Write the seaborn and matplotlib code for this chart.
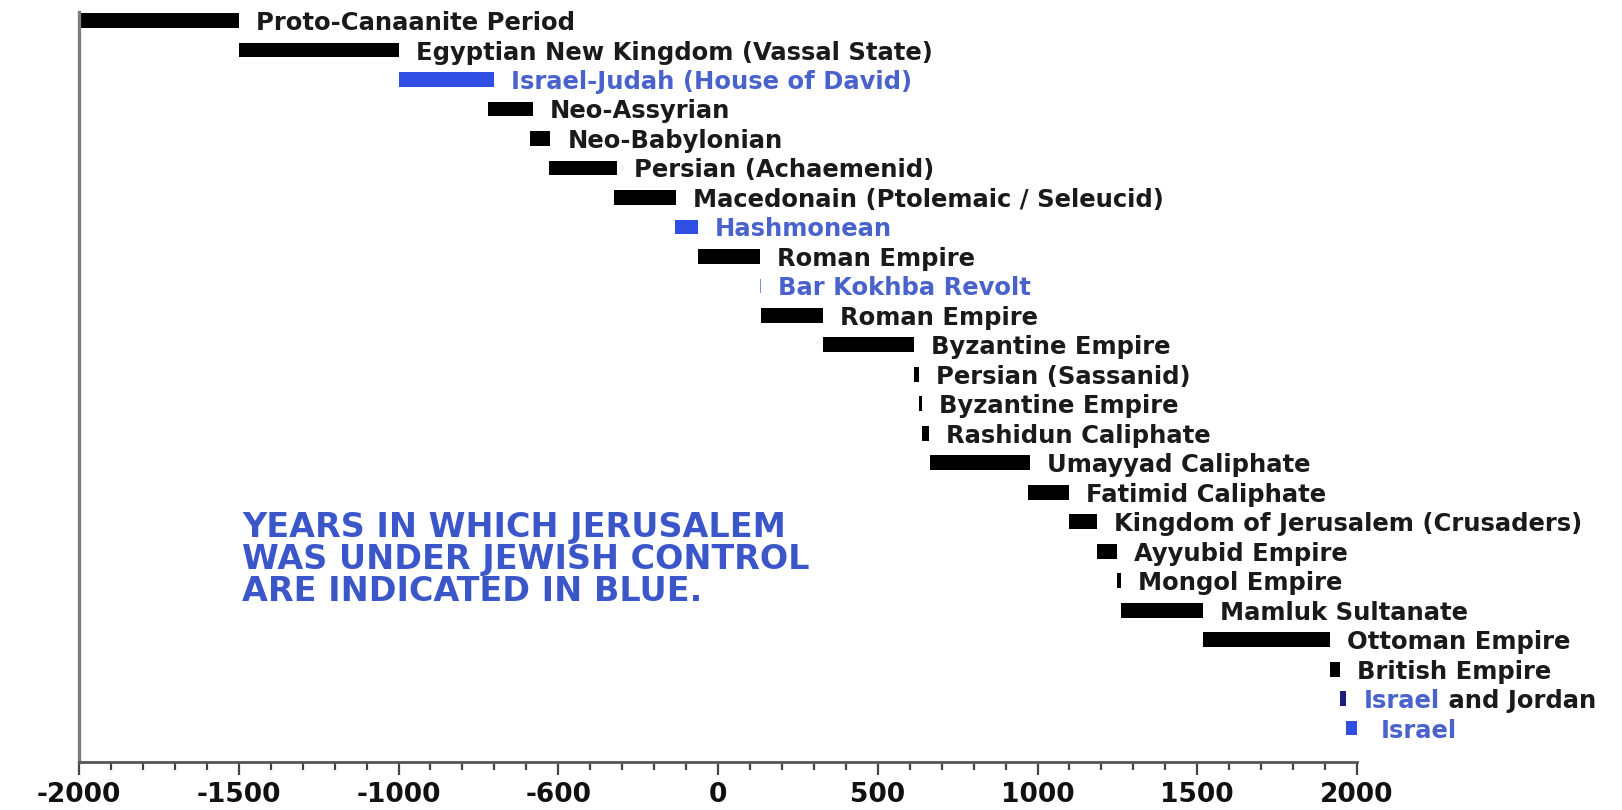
import matplotlib
matplotlib.use('Agg')
import pandas as pd
import matplotlib.pyplot as plt
import seaborn as sns
from matplotlib.ticker import FixedLocator, MultipleLocator

# Data: rule over Jerusalem, top to bottom
periods = ['Proto-Canaanite Period', 'Egyptian New Kingdom (Vassal State)',
           'Israel-Judah (House of David)', 'Neo-Assyrian', 'Neo-Babylonian',
           'Persian (Achaemenid)', 'Macedonain (Ptolemaic / Seleucid)', 'Hashmonean',
           'Roman Empire', 'Bar Kokhba Revolt', 'Roman Empire', 'Byzantine Empire',
           'Persian (Sassanid)', 'Byzantine Empire', 'Rashidun Caliphate',
           'Umayyad Caliphate', 'Fatimid Caliphate', 'Kingdom of Jerusalem (Crusaders)',
           'Ayyubid Empire', 'Mongol Empire', 'Mamluk Sultanate', 'Ottoman Empire',
           'British Empire', 'Israel', 'Israel']
label_tail = [''] * 23 + [' and Jordan', '']
start_year = [-2000, -1500, -1000, -720, -587, -530, -325, -135, -63, 132, 136, 330,
              614, 629, 640, 662, 970, 1099, 1187, 1250, 1260, 1517, 1917, 1948, 1967]
end_year = [-1500, -1000, -700, -580, -525, -315, -130, -63, 132, 136, 330, 614,
            629, 638, 661, 975, 1099, 1187, 1250, 1260, 1517, 1917, 1948, 1967, 2020]
status = ['other', 'other', 'jewish', 'other', 'other', 'other', 'other', 'jewish',
          'other', 'revolt', 'other', 'other', 'other', 'other', 'other', 'other',
          'other', 'other', 'other', 'other', 'other', 'other', 'other', 'shared', 'jewish']

tick_years = [-2000, -1500, -1000, -500, 0, 500, 1000, 1500, 2000]
tick_labels = ['-2000', '-1500', '-1000', '-600', '0', '500', '1000', '1500', '2000']

note_lines = ['YEARS IN WHICH JERUSALEM', 'WAS UNDER JEWISH CONTROL', 'ARE INDICATED IN BLUE.']

df = pd.DataFrame({'row': [f'r{i}' for i in range(len(periods))],
                   'start': start_year, 'end': end_year, 'status': status})
df['span'] = df['end'] - df['start']

bar_colors = {'other': '#000000', 'jewish': '#2f4fe3', 'revolt': '#7b8ee8', 'shared': '#1c1f7a'}
text_colors = {'other': '#1a1a1a', 'jewish': '#4a63cc', 'revolt': '#4a63cc', 'shared': '#4a63cc'}

sns.set_style('white')
fig = plt.figure(figsize=(16.22, 8.10), dpi=100)
ax = fig.add_axes([79 / 1622, 1 - 762 / 810, (1357 - 79) / 1622, (762 - 12) / 810])

sns.barplot(data=df, x='span', y='row', orient='y', left=df['start'].values,
            width=0.5, color='black', errorbar=None, linewidth=0, ax=ax)
for patch, st in zip(ax.patches, df['status']):
    patch.set_facecolor(bar_colors[st])

# labels next to the bars
for i, row in df.iterrows():
    t = ax.annotate(periods[i], xy=(row['end'], i), xytext=(17, 0), textcoords='offset pixels',
                    va='center_baseline', ha='left', fontsize=17.5, fontweight='bold',
                    color=text_colors[row['status']], annotation_clip=False)
    if label_tail[i]:
        ax.annotate(label_tail[i], xy=(1, 0), xycoords=t, va='bottom', ha='left',
                    fontsize=17.5, fontweight='bold', color=text_colors['other'],
                    annotation_clip=False)

# blue note in the empty lower-left area
ax.text(-1490, 16.65, '\n'.join(note_lines), va='top', ha='left', fontsize=24,
        fontweight='bold', color='#3a56c8', linespacing=0.95)

ax.set_xlim(-2000, 2000)
ax.set_ylim(25.15, -0.29)
ax.set_yticks([])
ax.set_xlabel('')
ax.set_ylabel('')
ax.xaxis.set_major_locator(FixedLocator(tick_years))
ax.set_xticklabels(tick_labels, fontsize=19, fontweight='bold', color='#111111')
ax.xaxis.set_minor_locator(MultipleLocator(100))
ax.tick_params(axis='x', which='major', direction='out', length=9.5, width=1.6,
               color='#444444', pad=5, bottom=True)
ax.tick_params(axis='x', which='minor', direction='out', length=5.5, width=1.6,
               color='#444444', bottom=True)

sns.despine(ax=ax)
ax.spines['left'].set_color('#7d7d7d')
ax.spines['left'].set_linewidth(2.4)
ax.spines['bottom'].set_color('#555555')
ax.spines['bottom'].set_linewidth(2.0)

fig.savefig('out.png', dpi=100)
